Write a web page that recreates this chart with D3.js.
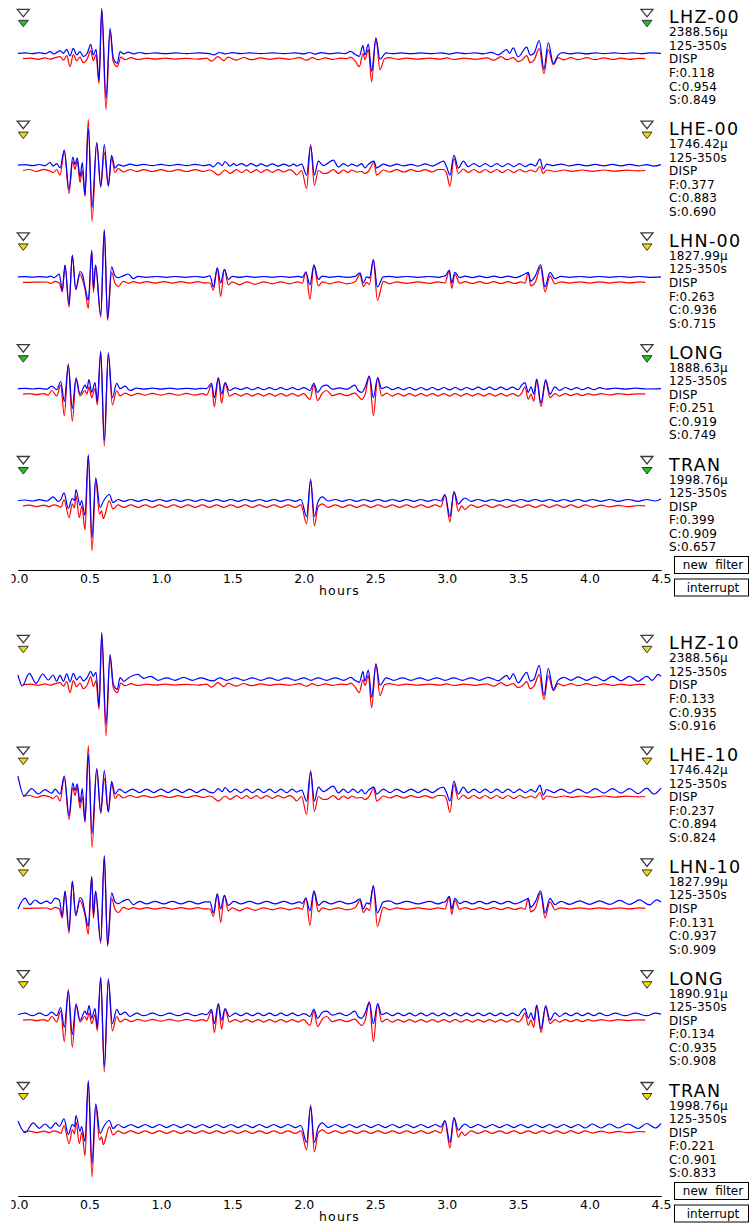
<!DOCTYPE html>
<html><head><meta charset="utf-8">
<script src="https://cdn.jsdelivr.net/npm/d3@7/dist/d3.min.js"></script>
<style>
body{margin:0;background:#fff}
svg{display:block}
text{font-family:"DejaVu Sans",sans-serif;fill:#000}
</style></head>
<body><svg id="chart" width="752" height="1224"></svg>
<script>
// ---------- axis ----------
const majorTicks = [0, 0.5, 1.0, 1.5, 2.0, 2.5, 3.0, 3.5, 4.0, 4.5];
const minorTicks = [0,0.1,0.2,0.3,0.4,0.5,0.6,0.7,0.8,0.9,1.0,1.1,1.2,1.3,1.4,1.5,1.6,1.7,1.8,1.9,2.0,2.1,2.2,2.3,2.4,2.5,2.6,2.7,2.8,2.9,3.0,3.1,3.2,3.3,3.4,3.5,3.6,3.7,3.8,3.9,4.0,4.1,4.2,4.3,4.4,4.5];
const axisTitle = "hours";
const buttons = ["new  filter", "interrupt"];

// ---------- synthetic (red) traces: [hours, amplitude] ----------
const redZ = [[0.035,0],[0.09,0.6],[0.14,-0.6],[0.19,0.8],[0.224,-0.5],[0.26,1],[0.294,2],[0.318,-1.5],[0.341,3],[0.364,-8],[0.387,4],[0.411,-2],[0.434,1.5],[0.457,-4],[0.485,0],[0.509,8],[0.527,-2],[0.546,4],[0.567,-25],[0.586,48],[0.616,-51],[0.644,28],[0.667,-3],[0.695,-8],[0.72,1.5],[0.75,-1],[0.79,1],[0.84,-0.8],[0.9,0.5],[0.96,-0.5],[1.03,0.5],[1.1,-0.4],[1.18,0.4],[1.26,-0.5],[1.32,0.5],[1.355,-2.5],[1.40,2],[1.44,-2],[1.47,1.5],[1.53,-1.5],[1.58,1.2],[1.63,-1],[1.7,0.8],[1.76,-0.6],[1.83,0.6],[1.9,-0.6],[1.97,1],[2.02,-1.5],[2.06,1],[2.1,-1],[2.15,0.8],[2.2,-0.6],[2.26,0.5],[2.30,0],[2.328,1.5],[2.358,-2],[2.389,-8],[2.414,5],[2.428,-1],[2.452,9],[2.475,-23],[2.505,21],[2.533,-11],[2.565,0],[2.6,1],[2.66,-0.6],[2.72,0.6],[2.8,-0.5],[2.88,0.5],[2.95,-0.5],[3.0,0.8],[3.05,-0.8],[3.12,0.6],[3.2,-0.6],[3.28,0.8],[3.33,-1.5],[3.38,2],[3.42,-1],[3.466,1],[3.50,-3],[3.53,-1],[3.56,3],[3.585,-4],[3.611,-1.5],[3.648,10],[3.681,-15],[3.711,9],[3.746,-6],[3.78,1],[3.82,-1.2],[3.87,1],[3.92,-1],[3.98,1],[4.04,-1],[4.1,0.8],[4.16,-0.8],[4.22,0.6],[4.28,-0.6],[4.34,0.4],[4.39,0]];
const redE = [[0.035,0],[0.08,1],[0.13,-1],[0.18,1.2],[0.224,-0.5],[0.247,-2],[0.271,1],[0.294,-4.7],[0.324,19],[0.357,-23],[0.383,9],[0.399,1],[0.415,9.7],[0.434,-12],[0.450,0],[0.469,-26],[0.492,51],[0.518,-51],[0.551,28],[0.579,-17],[0.604,18],[0.632,-15.5],[0.655,13],[0.679,-2],[0.702,2],[0.737,-1.5],[0.784,1],[0.83,-1],[0.88,0.8],[0.94,-1],[1.0,0.8],[1.06,-1],[1.12,0.8],[1.18,-1],[1.24,0.8],[1.30,-1],[1.34,0.5],[1.367,-1],[1.402,-4.7],[1.449,0.5],[1.484,-2.9],[1.53,0.8],[1.565,-2],[1.60,0.8],[1.63,-2],[1.67,0.8],[1.70,-2],[1.74,0.8],[1.78,-1.8],[1.82,0.8],[1.86,-1.5],[1.90,0.8],[1.93,-1.5],[1.950,-4.5],[1.985,0],[2.020,-18],[2.048,26],[2.074,-15],[2.102,0],[2.137,-3],[2.16,-2.9],[2.207,1],[2.242,-3],[2.277,0.5],[2.31,-2],[2.335,0.5],[2.37,-1.5],[2.405,-1],[2.428,-3],[2.452,-1],[2.491,8],[2.510,-4.7],[2.557,0.5],[2.60,-1.5],[2.65,0.8],[2.70,-1.5],[2.75,0.8],[2.80,-1],[2.85,0.8],[2.90,-1.5],[2.94,1],[2.977,1],[3.0,-3],[3.023,-16],[3.051,12],[3.082,-3],[3.117,1.5],[3.15,-2],[3.19,1],[3.23,-2],[3.27,1],[3.31,-2],[3.35,1],[3.39,-2],[3.43,1],[3.47,-2],[3.51,1],[3.55,-1.5],[3.59,0.5],[3.62,-1.5],[3.653,4],[3.676,-3],[3.70,0.5],[3.76,-1],[3.82,0.5],[3.88,-0.8],[3.95,0.5],[4.02,-0.8],[4.1,0.5],[4.18,-0.6],[4.26,0.4],[4.34,-0.4],[4.39,0]];
const redN = [[0.035,0],[0.08,0],[0.14,0.2],[0.2,0.3],[0.23,-1],[0.26,1],[0.289,-0.7],[0.310,-9.7],[0.329,17],[0.357,-25],[0.380,27],[0.404,-7],[0.434,8],[0.457,0],[0.469,-7],[0.492,-26],[0.516,31.6],[0.528,-10],[0.543,17],[0.579,-35],[0.604,53],[0.627,-38],[0.655,10],[0.679,-1],[0.702,-4.3],[0.737,1],[0.772,-1],[0.807,0.7],[0.85,-0.8],[0.9,0.6],[0.96,-0.8],[1.02,0.6],[1.08,-0.8],[1.14,0.6],[1.2,-0.8],[1.26,0.6],[1.30,-0.5],[1.344,-0.7],[1.367,-8],[1.395,14.4],[1.418,-14.4],[1.444,12.9],[1.472,-2.5],[1.5,0.5],[1.55,-2.5],[1.6,0.5],[1.66,-2],[1.72,0.5],[1.78,-1.5],[1.84,0.5],[1.9,-1.5],[1.96,0.5],[1.99,-1],[2.015,10.8],[2.043,-16.9],[2.071,17],[2.102,-3.6],[2.13,0.5],[2.18,-1.5],[2.24,0.5],[2.30,-1.5],[2.36,0.5],[2.393,8],[2.417,-4.3],[2.44,0],[2.46,-2],[2.487,22.6],[2.515,-18],[2.557,1],[2.60,-1.5],[2.65,0.5],[2.72,-1],[2.8,0.5],[2.88,-1],[2.94,0.5],[2.988,-0.7],[3.019,11.8],[3.035,-6],[3.058,8],[3.09,-1],[3.13,0.6],[3.18,-1.2],[3.23,0.6],[3.28,-1.2],[3.33,0.6],[3.38,-1.2],[3.43,0.6],[3.48,-1.2],[3.52,0.5],[3.548,-1],[3.571,10],[3.588,-3.6],[3.62,0],[3.658,15],[3.688,-9.7],[3.723,6.5],[3.758,-1.5],[3.8,0.5],[3.86,-0.8],[3.93,0.5],[4.0,-0.8],[4.07,0.5],[4.14,-0.8],[4.21,0.5],[4.28,-0.6],[4.35,0.4],[4.39,0]];
const redL = [[0.035,0],[0.08,0.5],[0.13,-0.5],[0.18,0.5],[0.21,-1],[0.236,3.6],[0.271,-1.8],[0.299,9],[0.324,-21.5],[0.352,30.5],[0.380,-27],[0.406,14.4],[0.434,-1.8],[0.469,3.6],[0.482,0],[0.497,7.2],[0.516,-3.6],[0.539,5.4],[0.555,-10.8],[0.579,41.3],[0.604,-52],[0.632,39.5],[0.660,-10.8],[0.691,3.6],[0.714,-1.8],[0.75,1],[0.79,-1.5],[0.84,0.8],[0.89,-1],[0.94,0.8],[1.0,-1],[1.06,0.8],[1.12,-1],[1.18,0.8],[1.24,-1],[1.29,0.5],[1.32,-1],[1.355,9],[1.374,-12.5],[1.402,16],[1.425,-9],[1.449,11],[1.48,-2],[1.52,0.5],[1.56,-2],[1.60,0.5],[1.64,-2],[1.68,0.5],[1.72,-2],[1.76,0.5],[1.80,-2],[1.84,0.5],[1.88,-2],[1.92,0.5],[1.96,-2],[2.0,0.5],[2.043,-5.4],[2.071,9],[2.097,-6.5],[2.13,1],[2.16,3.6],[2.2,-1.5],[2.25,0.5],[2.3,-1.5],[2.358,1],[2.38,-2],[2.405,-5.4],[2.43,0],[2.459,18],[2.487,-21.5],[2.517,16],[2.545,-1.8],[2.58,1],[2.62,-2],[2.66,0.5],[2.70,-2],[2.74,0.5],[2.78,-2],[2.82,0.5],[2.86,-2],[2.90,0.5],[2.94,-2],[2.98,0.5],[3.02,-2],[3.06,0.5],[3.10,-2],[3.14,0.5],[3.18,-2],[3.22,0.5],[3.26,-2],[3.30,0.5],[3.34,-2],[3.38,0.5],[3.42,-2],[3.46,0.5],[3.50,-2],[3.525,1],[3.548,7.2],[3.571,-5.4],[3.59,0],[3.61,-7],[3.630,14.4],[3.660,-12.5],[3.693,13],[3.723,-3.6],[3.758,0.5],[3.79,-2],[3.83,0.5],[3.87,-1.5],[3.91,0.5],[3.95,-1.5],[3.99,0.5],[4.03,-1],[4.08,0.5],[4.14,-0.8],[4.2,0.4],[4.27,-0.5],[4.34,0.3],[4.39,0]];
const redT = [[0.035,0],[0.08,0.8],[0.13,-0.8],[0.18,0.8],[0.22,-0.8],[0.25,1],[0.28,0],[0.30,-1.5],[0.322,6],[0.358,-11.7],[0.38,2],[0.395,-2],[0.406,10],[0.429,-11.7],[0.447,0],[0.469,-24],[0.492,50],[0.518,-45],[0.544,26.7],[0.570,-8],[0.585,-5],[0.597,-12.7],[0.639,5],[0.665,-3],[0.70,1],[0.74,-1.5],[0.79,1],[0.84,-1.5],[0.89,1],[0.94,-1.5],[0.99,1],[1.04,-1.5],[1.09,1],[1.14,-1.5],[1.19,1],[1.24,-1.5],[1.29,1],[1.34,-1.5],[1.39,1],[1.44,-1.5],[1.49,1],[1.54,-1.5],[1.59,1],[1.64,-1.5],[1.69,1],[1.74,-1.5],[1.79,1],[1.84,-1.5],[1.89,1],[1.94,-1.5],[1.98,1],[2.020,-18],[2.048,27],[2.074,-20],[2.10,-1],[2.13,2],[2.17,-1.5],[2.22,1],[2.27,-1.5],[2.32,1],[2.37,-1.5],[2.42,1],[2.47,-1.5],[2.52,1],[2.57,-1.5],[2.62,1],[2.67,-1.5],[2.72,1],[2.77,-1.5],[2.82,1],[2.87,-1.5],[2.92,1],[2.96,-1],[2.988,11],[3.023,-16],[3.051,14],[3.082,-5.4],[3.105,0],[3.128,-3.6],[3.17,1],[3.22,-1.5],[3.27,1],[3.32,-1.5],[3.37,1],[3.42,-1.5],[3.47,1],[3.52,-1.5],[3.57,1],[3.62,-1.5],[3.67,1],[3.72,-1.5],[3.77,1],[3.82,-1.5],[3.87,1],[3.92,-1.5],[3.97,1],[4.02,-1.2],[4.08,0.8],[4.14,-1],[4.2,0.6],[4.27,-0.8],[4.34,0.4],[4.39,0]];

// ---------- observed (blue) traces, station 00 ----------
const blueZ00 = [[0,0],[0.05,0.5],[0.1,-0.4],[0.15,0.6],[0.19,-0.4],[0.224,1.7],[0.252,-0.7],[0.294,2.7],[0.318,0],[0.341,4],[0.364,-2.7],[0.387,5],[0.411,-1.7],[0.434,1.7],[0.457,-3.3],[0.485,0],[0.509,9],[0.527,-1.7],[0.546,4],[0.567,-26.7],[0.586,45],[0.616,-45],[0.644,25],[0.667,-5],[0.695,-10],[0.714,1.7],[0.74,-0.5],[0.77,1.2],[0.81,-0.5],[0.85,0.8],[0.9,-0.3],[0.96,0.4],[1.03,-0.4],[1.1,0.4],[1.18,-0.3],[1.26,0.4],[1.34,-0.4],[1.37,-1.5],[1.41,0.8],[1.45,-0.5],[1.5,0.6],[1.56,-0.4],[1.62,0.5],[1.7,-0.4],[1.78,0.5],[1.86,-0.4],[1.94,0.5],[2.0,-0.5],[2.04,0.8],[2.08,-0.8],[2.12,0.7],[2.18,-0.5],[2.24,0.4],[2.29,-0.3],[2.328,2],[2.358,-1],[2.389,-3],[2.414,7.7],[2.428,-1.7],[2.452,9.3],[2.475,-18],[2.505,15],[2.533,-6],[2.576,0.5],[2.62,-0.4],[2.68,0.4],[2.75,-0.4],[2.82,0.4],[2.9,-0.4],[2.96,0.5],[3.02,-0.8],[3.07,0.6],[3.13,-0.4],[3.2,0.5],[3.26,-0.5],[3.31,1],[3.361,-1.5],[3.42,3.6],[3.44,0],[3.466,5.4],[3.50,-3.6],[3.56,6.1],[3.585,-1.8],[3.611,0],[3.648,12.6],[3.681,-16],[3.711,10.8],[3.746,-10],[3.78,-1.8],[3.81,0.7],[3.86,-0.5],[3.92,0.5],[3.98,-0.5],[4.04,0.5],[4.1,-0.4],[4.17,0.5],[4.24,-0.4],[4.3,0.5],[4.36,-0.4],[4.42,0.4],[4.5,0]];
const blueE00 = [[0,0],[0.05,0.5],[0.1,-0.5],[0.15,0.6],[0.19,-0.5],[0.224,2.5],[0.247,-1],[0.271,1.4],[0.294,-2.9],[0.324,15],[0.357,-24.4],[0.383,7.9],[0.399,0.7],[0.415,7.2],[0.434,-11.8],[0.450,2.5],[0.469,-29.8],[0.492,36.6],[0.518,-42.4],[0.551,22.3],[0.579,-20.8],[0.604,20.5],[0.632,-20.8],[0.655,9.7],[0.679,-2.9],[0.702,0.5],[0.737,-1],[0.784,1],[0.83,-0.5],[0.88,0.8],[0.94,-0.6],[1.0,0.8],[1.06,-0.6],[1.12,0.8],[1.18,-0.6],[1.24,0.8],[1.30,-0.6],[1.34,0.5],[1.367,-1.8],[1.402,2.5],[1.43,-0.5],[1.449,3.6],[1.484,-1],[1.51,1.5],[1.530,-0.5],[1.565,1.5],[1.60,-1],[1.63,1.5],[1.67,-1],[1.70,1.2],[1.74,-1],[1.78,1.2],[1.82,-1],[1.86,1],[1.90,-1],[1.93,1],[1.950,-1],[1.985,1],[2.020,-10],[2.048,19],[2.074,-10],[2.102,4],[2.137,-0.5],[2.16,1],[2.207,5],[2.242,-2],[2.277,1.5],[2.31,-1],[2.335,1],[2.37,-1],[2.405,1.4],[2.428,-2.9],[2.452,0.7],[2.491,4],[2.510,-2.9],[2.557,1],[2.603,-1],[2.65,1],[2.70,-0.8],[2.75,0.8],[2.80,-1],[2.85,1.2],[2.90,-1],[2.94,1.5],[2.977,4],[3.0,-2],[3.023,-10],[3.051,10],[3.082,-3],[3.117,4],[3.15,-1.5],[3.19,1.5],[3.23,-1.5],[3.27,1.5],[3.31,-1.5],[3.35,1.5],[3.39,-1.5],[3.43,1.5],[3.47,-1.5],[3.51,1.5],[3.55,-1.5],[3.59,1],[3.62,-1],[3.653,6],[3.676,-4],[3.70,1],[3.74,-0.5],[3.80,1],[3.86,-0.8],[3.92,0.8],[3.98,-0.8],[4.04,0.8],[4.10,-0.8],[4.16,0.8],[4.22,-0.8],[4.28,0.8],[4.34,-0.8],[4.40,0.5],[4.45,-1],[4.5,0.5]];
const blueN00 = [[0,0],[0.05,0.3],[0.1,-0.3],[0.15,0.3],[0.2,-0.3],[0.23,0.8],[0.25,-0.8],[0.27,1],[0.289,2.9],[0.310,-13.3],[0.329,11.8],[0.357,-27.6],[0.380,21.9],[0.404,-12.6],[0.434,5.4],[0.450,3],[0.469,-9.7],[0.492,-23.3],[0.516,26.2],[0.528,-12],[0.543,11.8],[0.579,-38.4],[0.604,46.6],[0.627,-42],[0.655,10],[0.679,1],[0.702,-0.7],[0.737,1],[0.772,2.9],[0.807,-1.8],[0.84,0.5],[0.9,-0.4],[0.97,0.4],[1.04,-0.4],[1.1,0.4],[1.17,-0.4],[1.24,0.4],[1.30,-0.4],[1.344,1],[1.367,-10],[1.395,9],[1.418,-6],[1.444,7.5],[1.472,-2.5],[1.5,0.5],[1.55,-0.5],[1.6,0.5],[1.66,-0.4],[1.72,0.4],[1.78,-0.4],[1.84,0.4],[1.9,-0.4],[1.96,0.5],[1.99,-0.5],[2.015,4.6],[2.043,-8],[2.071,12],[2.102,-2.5],[2.13,0.8],[2.18,-0.4],[2.24,0.5],[2.30,-0.4],[2.36,0.5],[2.393,4],[2.417,-6],[2.44,0],[2.46,-1],[2.487,17],[2.515,-10],[2.557,0],[2.60,0.5],[2.65,-0.4],[2.72,0.4],[2.8,-0.4],[2.88,0.4],[2.94,-0.5],[2.97,0.5],[2.988,1],[3.019,6.5],[3.035,-6],[3.058,4.6],[3.09,-0.7],[3.13,0.8],[3.18,-0.8],[3.23,0.8],[3.28,-0.8],[3.33,0.8],[3.38,-0.8],[3.43,0.8],[3.48,-0.8],[3.52,1],[3.548,2.9],[3.571,4.5],[3.588,-4.3],[3.62,1],[3.658,12],[3.688,-10],[3.723,4.6],[3.758,-1.8],[3.8,0.5],[3.86,-0.4],[3.93,0.4],[4.0,-0.4],[4.07,0.4],[4.14,-0.4],[4.21,0.4],[4.28,-0.4],[4.35,0.4],[4.42,-0.4],[4.5,0]];
const blueL00 = [[0,0],[0.05,0.3],[0.1,-0.3],[0.15,0.3],[0.2,-0.5],[0.236,2.5],[0.271,-1],[0.299,7.2],[0.324,-12.6],[0.352,23.3],[0.380,-19.7],[0.406,10.8],[0.434,-5.4],[0.469,3.6],[0.482,0],[0.497,9],[0.516,-3.6],[0.539,6.1],[0.555,-12.6],[0.579,37.7],[0.604,-52],[0.632,35.9],[0.660,-9],[0.691,5.4],[0.714,0],[0.749,2.5],[0.784,-1.8],[0.83,0.5],[0.88,-0.5],[0.94,0.5],[1.0,-0.5],[1.06,0.5],[1.12,-0.4],[1.18,0.4],[1.24,-0.4],[1.29,0.4],[1.32,0],[1.355,5.4],[1.374,-9],[1.402,11],[1.425,-5.4],[1.449,6],[1.48,-1.8],[1.52,0.8],[1.56,-0.8],[1.60,1],[1.64,-1],[1.68,1],[1.72,-1],[1.76,1],[1.80,-1],[1.84,1],[1.88,-1],[1.92,1],[1.96,-1],[2.0,1],[2.02,0],[2.043,-1.8],[2.071,5.4],[2.097,-3.6],[2.13,2.5],[2.16,3.6],[2.2,-0.5],[2.25,0.8],[2.3,-0.5],[2.358,3.6],[2.38,-1.8],[2.405,-3.6],[2.43,1.8],[2.459,12.5],[2.487,-9],[2.517,11],[2.545,0],[2.58,1.8],[2.62,-1],[2.66,1],[2.70,-1],[2.74,1.2],[2.78,-1.2],[2.82,1.2],[2.86,-1.2],[2.90,1.2],[2.94,-1.2],[2.98,1.2],[3.02,-1.2],[3.06,1.2],[3.10,-1.2],[3.14,1.2],[3.18,-1],[3.22,1.5],[3.26,-1],[3.30,1.5],[3.34,-1],[3.38,1.5],[3.42,-1],[3.46,1.5],[3.50,-1],[3.525,3.6],[3.548,6],[3.571,-3.6],[3.59,1.8],[3.61,-5.4],[3.630,9.7],[3.660,-14.4],[3.693,9],[3.723,-5.4],[3.758,1.8],[3.79,-1.8],[3.83,1.2],[3.87,-1],[3.91,1],[3.95,-1],[3.99,1],[4.03,-1],[4.07,1],[4.12,-0.5],[4.18,0.5],[4.25,-0.5],[4.32,0.5],[4.4,-0.3],[4.5,0]];
const blueT00 = [[0,0],[0.05,0.5],[0.1,-0.5],[0.15,0.8],[0.2,-0.5],[0.247,3.6],[0.28,-1],[0.30,1],[0.322,7.7],[0.352,-8],[0.38,2],[0.395,0],[0.406,11],[0.434,-5],[0.445,0],[0.469,-15],[0.492,46],[0.518,-37],[0.544,22.7],[0.574,-7],[0.60,0],[0.639,6],[0.665,-2],[0.70,1],[0.74,-0.8],[0.79,1],[0.84,-0.8],[0.89,1],[0.94,-0.8],[0.99,1],[1.04,-0.8],[1.09,1],[1.14,-0.8],[1.19,1],[1.24,-0.8],[1.29,1],[1.34,-0.8],[1.39,1],[1.44,-0.8],[1.49,1],[1.54,-0.8],[1.59,1],[1.64,-0.8],[1.69,1],[1.74,-0.8],[1.79,1],[1.84,-0.8],[1.89,1],[1.94,-0.8],[1.98,1],[2.020,-16],[2.048,20],[2.074,-16],[2.10,-1],[2.13,3.6],[2.17,-0.5],[2.22,1],[2.27,-0.8],[2.32,1],[2.37,-0.8],[2.42,1],[2.47,-0.8],[2.52,1],[2.57,-0.8],[2.62,1],[2.67,-0.8],[2.72,1],[2.77,-0.8],[2.82,1],[2.87,-0.8],[2.92,1],[2.96,-0.5],[2.988,6],[3.023,-16],[3.051,9],[3.082,-3.6],[3.105,0],[3.128,2.5],[3.17,-0.8],[3.22,1],[3.27,-0.8],[3.32,1],[3.37,-0.8],[3.42,1],[3.47,-0.8],[3.52,1],[3.57,-0.8],[3.62,1],[3.67,-0.8],[3.72,1],[3.77,-0.8],[3.82,1],[3.87,-0.8],[3.92,1],[3.97,-0.8],[4.02,1],[4.08,-0.8],[4.14,1],[4.2,-0.8],[4.27,1],[4.34,-0.8],[4.40,1],[4.46,-0.5],[4.5,1.5]];

// ---------- observed (blue) traces, station 10 ----------
const blueZ10 = [[0,4.3],[0.03,-6.7],[0.079,6],[0.126,-4],[0.173,5.3],[0.212,-0.7],[0.247,4.3],[0.27,-2],[0.294,4],[0.318,-2],[0.341,5.4],[0.364,-2.7],[0.387,6],[0.411,-0.5],[0.434,3],[0.457,-1.5],[0.485,2],[0.509,8],[0.527,3],[0.546,7],[0.567,-26.7],[0.586,47],[0.616,-45],[0.644,25],[0.667,-5],[0.695,-10],[0.714,1.7],[0.74,-2],[0.77,1],[0.80,3.5],[0.84,5],[0.88,1],[0.93,3],[0.98,-1],[1.04,1.5],[1.1,-1],[1.16,2],[1.22,-1],[1.28,1.5],[1.34,-1],[1.37,-1.5],[1.41,1.5],[1.46,-1],[1.52,1.5],[1.58,-1],[1.64,1.5],[1.70,-1],[1.76,1.5],[1.82,-1],[1.88,1.5],[1.94,-1],[2.0,1.5],[2.05,-1],[2.1,1.5],[2.16,-1],[2.22,1.5],[2.28,-1],[2.328,2],[2.358,-1],[2.389,-3],[2.414,7.7],[2.428,-1.7],[2.452,9.3],[2.475,-18],[2.505,15],[2.533,-6],[2.576,1.5],[2.63,-1],[2.69,1.5],[2.75,-1],[2.81,1.5],[2.87,-1],[2.93,1.5],[2.99,-1],[3.05,1.5],[3.11,-1],[3.17,1.5],[3.23,-1],[3.29,2],[3.361,-1.5],[3.42,4],[3.44,0],[3.466,5.4],[3.50,-3.6],[3.56,7],[3.585,-1.8],[3.611,0],[3.648,14],[3.681,-16],[3.711,11],[3.746,-10],[3.78,-1],[3.82,2],[3.87,-1],[3.92,2.5],[3.98,-1],[4.04,2.5],[4.10,-1.5],[4.16,3],[4.22,-1.5],[4.28,3],[4.34,-2],[4.40,3],[4.44,-1],[4.48,5],[4.5,3]];
const blueE10 = [[0,15],[0.042,-4.7],[0.096,2.5],[0.142,-2.9],[0.189,1.4],[0.236,-2],[0.26,2],[0.294,-2.9],[0.324,15],[0.357,-24.4],[0.383,7.9],[0.399,0.7],[0.415,7.2],[0.434,-11.8],[0.450,2.5],[0.469,-29.8],[0.492,36.6],[0.518,-42.4],[0.551,22.3],[0.579,-20.8],[0.604,20.5],[0.632,-20.8],[0.655,9.7],[0.679,-2.9],[0.71,2],[0.75,-1.5],[0.80,2],[0.85,-1.5],[0.90,2],[0.95,-1.5],[1.0,2],[1.05,-1.5],[1.10,2],[1.15,-1.5],[1.20,2],[1.25,-1.5],[1.30,2],[1.34,-1],[1.367,-1.8],[1.402,2.5],[1.43,-0.5],[1.449,3.6],[1.484,-1],[1.52,2],[1.56,-1.5],[1.60,2],[1.64,-1.5],[1.68,2],[1.72,-1.5],[1.76,2],[1.80,-1.5],[1.84,2],[1.88,-1.5],[1.92,2],[1.950,-1],[1.985,1],[2.020,-10],[2.048,19],[2.074,-10],[2.102,4],[2.137,-0.5],[2.16,1],[2.207,5],[2.242,-2],[2.277,2],[2.31,-1.5],[2.345,2],[2.38,-1.5],[2.405,1.4],[2.428,-2.9],[2.452,0.7],[2.491,4],[2.510,-2.9],[2.557,2],[2.603,-1.5],[2.65,2],[2.70,-1.5],[2.75,2],[2.80,-1.5],[2.85,2],[2.90,-1.5],[2.94,2],[2.977,4],[3.0,-2],[3.023,-10],[3.051,10],[3.082,-3],[3.117,4],[3.15,-1.5],[3.19,2],[3.23,-1.5],[3.27,2],[3.31,-1.5],[3.35,2],[3.39,-1.5],[3.43,2],[3.47,-1.5],[3.51,2],[3.55,-1.5],[3.59,1.5],[3.62,-1],[3.653,6],[3.676,-4],[3.70,1.5],[3.75,-1.5],[3.80,2],[3.86,-2],[3.92,2],[3.98,-2],[4.04,2.5],[4.10,-2],[4.16,2.5],[4.22,-2],[4.28,2.5],[4.34,-2.5],[4.40,3],[4.45,-3],[4.5,3]];
const blueN10 = [[0,-6],[0.049,4.7],[0.084,-1.8],[0.119,2.9],[0.159,-0.7],[0.2,1.8],[0.23,-0.5],[0.259,4.7],[0.289,2.9],[0.310,-13.3],[0.329,11.8],[0.357,-27.6],[0.380,21.9],[0.404,-12.6],[0.434,5.4],[0.450,3],[0.469,-9.7],[0.492,-23.3],[0.516,26.2],[0.528,-12],[0.543,11.8],[0.579,-38.4],[0.604,46.6],[0.627,-42],[0.655,10],[0.679,1],[0.702,-0.7],[0.737,2],[0.772,3.5],[0.807,-1.8],[0.85,1.5],[0.9,-1],[0.96,1.5],[1.02,-1],[1.08,1.5],[1.14,-1],[1.2,1.5],[1.26,-1],[1.31,1],[1.344,1],[1.367,-10],[1.395,9],[1.418,-6],[1.444,7.5],[1.472,-2.5],[1.51,1.5],[1.56,-1],[1.62,1.5],[1.68,-1],[1.74,1.5],[1.80,-1],[1.86,1.5],[1.92,-1],[1.97,1],[1.99,-0.5],[2.015,4.6],[2.043,-8],[2.071,12],[2.102,-2.5],[2.14,1.5],[2.19,-1],[2.25,1.5],[2.31,-1],[2.36,1],[2.393,4],[2.417,-6],[2.44,0],[2.46,-1],[2.487,17],[2.515,-10],[2.557,1],[2.60,2],[2.65,-1],[2.72,1.5],[2.8,-1],[2.88,1.5],[2.94,-1],[2.97,0.5],[2.988,1],[3.019,6.5],[3.035,-6],[3.058,4.6],[3.09,-0.7],[3.13,1.5],[3.18,-1],[3.23,1.5],[3.28,-1],[3.33,1.5],[3.38,-1],[3.43,1.5],[3.48,-1],[3.52,1],[3.548,2.9],[3.571,4.5],[3.588,-4.3],[3.62,1],[3.658,12],[3.688,-10],[3.723,4.6],[3.758,-1.8],[3.8,1.5],[3.86,-1.5],[3.93,2],[4.0,-1.5],[4.07,2],[4.14,-1.5],[4.21,2.5],[4.28,-1.5],[4.35,3],[4.42,-2],[4.47,3],[4.5,1]];
const blueL10 = [[0,0],[0.049,1.5],[0.1,-1],[0.15,1.5],[0.2,-1],[0.236,2.5],[0.271,-1],[0.299,7.2],[0.324,-12.6],[0.352,23.3],[0.380,-19.7],[0.406,10.8],[0.434,-5.4],[0.469,3.6],[0.482,0],[0.497,9],[0.516,-3.6],[0.539,6.1],[0.555,-12.6],[0.579,37.7],[0.604,-52],[0.632,35.9],[0.660,-9],[0.691,5.4],[0.714,0],[0.749,2.5],[0.784,-1.8],[0.83,1.5],[0.88,-1],[0.94,1.5],[1.0,-1],[1.06,1.5],[1.12,-1],[1.18,1.5],[1.24,-1],[1.29,1],[1.32,0],[1.355,5.4],[1.374,-9],[1.402,11],[1.425,-5.4],[1.449,6],[1.48,-1.8],[1.52,1.5],[1.56,-1],[1.60,1.5],[1.64,-1],[1.68,1.5],[1.72,-1],[1.76,1.5],[1.80,-1],[1.84,1.5],[1.88,-1],[1.92,1.5],[1.96,-1],[2.0,1],[2.02,0],[2.043,-1.8],[2.071,5.4],[2.097,-3.6],[2.13,2.5],[2.16,3.6],[2.2,-0.5],[2.25,1.5],[2.3,-1],[2.358,3.6],[2.38,-1.8],[2.405,-3.6],[2.43,1.8],[2.459,12.5],[2.487,-9],[2.517,11],[2.545,0],[2.58,1.8],[2.62,-1],[2.66,1.5],[2.70,-1],[2.74,1.5],[2.78,-1.2],[2.82,1.5],[2.86,-1.2],[2.90,1.5],[2.94,-1.2],[2.98,1.5],[3.02,-1.2],[3.06,1.5],[3.10,-1.2],[3.14,1.5],[3.18,-1],[3.22,1.5],[3.26,-1],[3.30,1.5],[3.34,-1],[3.38,1.5],[3.42,-1],[3.46,1.5],[3.50,-1],[3.525,3.6],[3.548,6],[3.571,-3.6],[3.59,1.8],[3.61,-5.4],[3.630,9.7],[3.660,-14.4],[3.693,9],[3.723,-5.4],[3.758,1.8],[3.79,-1.8],[3.83,1.5],[3.87,-1],[3.91,1.5],[3.95,-1],[3.99,1.5],[4.03,-1],[4.07,1.5],[4.12,-1],[4.18,1.5],[4.25,-1],[4.32,1.5],[4.4,-1],[4.46,1.5],[4.5,0.5]];
const blueT10 = [[0,5.4],[0.049,-6.1],[0.107,3.6],[0.149,-1.8],[0.189,2.5],[0.229,-1.8],[0.264,3.6],[0.29,0],[0.322,7.7],[0.352,-8],[0.38,2],[0.395,0],[0.406,11],[0.434,-5],[0.445,0],[0.469,-15],[0.492,46],[0.518,-37],[0.544,22.7],[0.574,-7],[0.60,0],[0.639,6],[0.665,-2],[0.70,2],[0.74,-1.2],[0.79,2],[0.84,-1.2],[0.89,2],[0.94,-1.2],[0.99,2],[1.04,-1.2],[1.09,2],[1.14,-1.2],[1.19,2],[1.24,-1.2],[1.29,2],[1.34,-1.2],[1.39,2],[1.44,-1.2],[1.49,2],[1.54,-1.2],[1.59,2],[1.64,-1.2],[1.69,2],[1.74,-1.2],[1.79,2],[1.84,-1.2],[1.89,2],[1.94,-1.2],[1.98,1],[2.020,-16],[2.048,20],[2.074,-16],[2.10,-1],[2.13,3.6],[2.17,-1],[2.22,2],[2.27,-1.2],[2.32,2],[2.37,-1.2],[2.42,2],[2.47,-1.2],[2.52,2],[2.57,-1.2],[2.62,2],[2.67,-1.2],[2.72,2],[2.77,-1.2],[2.82,2],[2.87,-1.2],[2.92,2],[2.96,-0.5],[2.988,6],[3.023,-16],[3.051,9],[3.082,-3.6],[3.105,0],[3.128,2.5],[3.17,-1.2],[3.22,2],[3.27,-1.2],[3.32,2],[3.37,-1.2],[3.42,2],[3.47,-1.2],[3.52,2],[3.57,-1.2],[3.62,2],[3.67,-1.2],[3.72,2],[3.77,-1.2],[3.82,2],[3.87,-1.2],[3.92,2],[3.97,-1.5],[4.02,2.5],[4.08,-1.5],[4.14,2.5],[4.2,-1.5],[4.27,2.5],[4.34,-2],[4.40,3],[4.46,-1.5],[4.5,3]];

// ---------- labels ----------
const channelNames = ["LHZ-00","LHE-00","LHN-00","LONG","TRAN","LHZ-10","LHE-10","LHN-10","LONG","TRAN"];
const gains = ["2388.56\u03bc","1746.42\u03bc","1827.99\u03bc","1888.63\u03bc","1998.76\u03bc","2388.56\u03bc","1746.42\u03bc","1827.99\u03bc","1890.91\u03bc","1998.76\u03bc"];
const bands = ["125-350s","125-350s","125-350s","125-350s","125-350s","125-350s","125-350s","125-350s","125-350s","125-350s"];
const units = ["DISP","DISP","DISP","DISP","DISP","DISP","DISP","DISP","DISP","DISP"];
const fitF = ["0.118","0.377","0.263","0.251","0.399","0.133","0.237","0.131","0.134","0.221"];
const fitC = ["0.954","0.883","0.936","0.919","0.909","0.935","0.894","0.937","0.935","0.901"];
const fitS = ["0.849","0.690","0.715","0.749","0.657","0.916","0.824","0.909","0.908","0.833"];
const flags = ["green","yellow","yellow","green","green","yellow","yellow","yellow","yellow","yellow"];

const observed = [blueZ00, blueE00, blueN00, blueL00, blueT00, blueZ10, blueE10, blueN10, blueL10, blueT10];
const synthetic = [redZ, redE, redN, redL, redT, redZ, redE, redN, redL, redT];

// ---------- drawing ----------
const svg = d3.select("#chart");
const x = d3.scaleLinear().domain([0, 4.5]).range([18, 661]);
const amp = d3.scaleLinear().domain([-60, 60]).range([60, -60]);
const line = d3.line().x(d => x(d[0])).y(d => amp(d[1])).curve(d3.curveMonotoneX);
const flagColor = {green: "#22c022", yellow: "#e8e000"};

const panelOffset = [0, 626];
const rowStep = 111.8, base0 = 53.3, redShift = 5.4;

svg.append("defs").append("clipPath").attr("id", "lclip")
  .append("rect").attr("x", 11.5).attr("y", 0).attr("width", 740).attr("height", 1224);

channelNames.forEach((name, k) => {
  const p = Math.floor(k / 5), i = k % 5;
  const off = panelOffset[p] + i * rowStep;
  const base = off + base0;
  const g = svg.append("g");
  g.append("path").datum(synthetic[k]).attr("transform", `translate(0,${base + redShift})`)
    .attr("d", line).attr("fill", "none").attr("stroke", "#ff0000").attr("stroke-width", 1.2);
  g.append("path").datum(observed[k]).attr("transform", `translate(0,${base})`)
    .attr("d", line).attr("fill", "none").attr("stroke", "#0000ff").attr("stroke-width", 1.2);

  // triangles
  [23.3, 647].forEach(cx => {
    g.append("path").attr("d", `M${cx-6},${off+9.3}L${cx+6},${off+9.3}L${cx},${off+16.8}Z`)
      .attr("fill", "#fff").attr("stroke", "#3a3a3a").attr("stroke-width", 1.3);
    g.append("path").attr("d", `M${cx-5},${off+20.3}L${cx+5},${off+20.3}L${cx},${off+26.8}Z`)
      .attr("fill", flagColor[flags[k]]).attr("stroke", "#333").attr("stroke-width", 1);
  });

  // labels
  const tx = 669;
  g.append("text").attr("x", tx).attr("y", off + 23.3).style("font-size", "17.5px")
    .style("letter-spacing", "1.3px").text(name);
  const lines = [gains[k], bands[k], units[k], "F:" + fitF[k], "C:" + fitC[k], "S:" + fitS[k]];
  lines.forEach((s, j) => {
    g.append("text").attr("x", tx).attr("y", off + 36.3 + j * 13.55)
      .style("font-size", "12px").style("letter-spacing", "0.2px").text(s);
  });
});

panelOffset.forEach(po => {
  const ay = 570 + po;
  const ga = svg.append("g").attr("transform", `translate(0,${ay})`).attr("clip-path", "url(#lclip)");
  ga.call(d3.axisBottom(x).tickValues(minorTicks).tickSizeInner(-4).tickSizeOuter(0).tickFormat(""));
  ga.call(g => g.selectAll(".domain").attr("stroke", "#000"));
  const gm = svg.append("g").attr("transform", `translate(0,${ay})`).attr("clip-path", "url(#lclip)");
  gm.call(d3.axisBottom(x).tickValues(majorTicks).tickSizeInner(-7).tickSizeOuter(0).tickPadding(4)
    .tickFormat(d3.format(".1f")));
  gm.selectAll("text").style("font-size", "12.5px").style("font-family", "DejaVu Sans");
  svg.selectAll(".tick line").attr("stroke", "#000");
  svg.append("text").attr("x", 339.5).attr("y", ay + 25).attr("text-anchor", "middle")
    .style("font-size", "12.5px").style("letter-spacing", "1.2px").text(axisTitle);

  buttons.forEach((b, j) => {
    const by = ay - 13.5 + j * 22.5;
    svg.append("rect").attr("x", 674.5).attr("y", by).attr("width", 74).attr("height", 17)
      .attr("fill", "#fff").attr("stroke", "#000").attr("stroke-width", 1);
    svg.append("text").attr("x", 713).attr("y", by + 12.5).attr("text-anchor", "middle")
      .attr("xml:space", "preserve").style("white-space", "pre").style("font-size", "12px").text(b);
  });
});
</script></body></html>
